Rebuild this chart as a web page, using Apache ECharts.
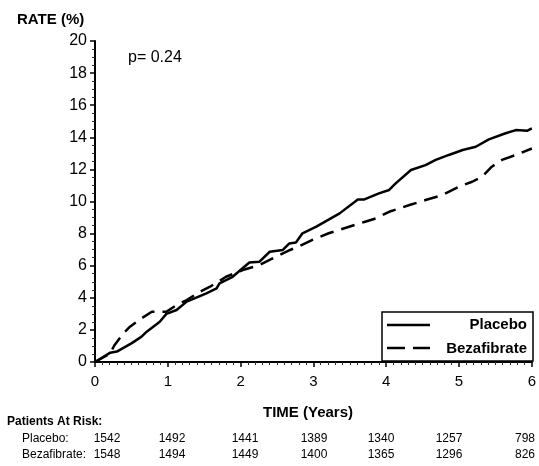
<!DOCTYPE html>
<html>
<head>
<meta charset="utf-8">
<script src="https://cdn.jsdelivr.net/npm/echarts@6/dist/echarts.min.js"></script>
<style>
  html, body { margin: 0; padding: 0; background: #fff; }
  #chart { width: 539px; height: 466px; }
</style>
</head>
<body>
<div id="chart"></div>
<script>
// values (time in years, rate in %)
const placeboTime = [0, 0.21, 0.3, 0.5, 0.64, 0.71, 0.89, 0.98, 1.12, 1.26, 1.53, 1.67, 1.71, 1.89, 2.12, 2.26, 2.4, 2.58, 2.67, 2.76, 2.85, 3.04, 3.36, 3.61, 3.7, 3.9, 4.04, 4.13, 4.34, 4.54, 4.68, 4.86, 5.05, 5.23, 5.41, 5.64, 5.78, 5.94, 6]
const placeboRate = [0, 0.58, 0.65, 1.16, 1.58, 1.89, 2.51, 3.0, 3.24, 3.76, 4.28, 4.59, 4.9, 5.31, 6.2, 6.25, 6.87, 6.98, 7.39, 7.45, 8.02, 8.43, 9.26, 10.13, 10.13, 10.51, 10.72, 11.13, 11.96, 12.27, 12.59, 12.9, 13.21, 13.41, 13.87, 14.25, 14.45, 14.41, 14.55]
const bezaTime = [0, 0.2, 0.27, 0.39, 0.48, 0.64, 0.78, 0.98, 1.12, 1.26, 1.44, 1.58, 1.8, 2.03, 2.26, 2.44, 2.68, 2.79, 2.98, 3.21, 3.49, 3.71, 3.86, 4.04, 4.32, 4.54, 4.77, 5.0, 5.18, 5.32, 5.45, 5.59, 5.78, 6]
const bezaRate = [0, 0.5, 1.06, 1.79, 2.2, 2.72, 3.13, 3.13, 3.55, 3.86, 4.38, 4.69, 5.31, 5.73, 6.04, 6.46, 6.98, 7.18, 7.6, 8.02, 8.43, 8.74, 8.95, 9.36, 9.78, 10.09, 10.4, 10.92, 11.23, 11.55, 12.17, 12.59, 12.9, 13.3]

const seriesNames = ['Placebo', 'Bezafibrate']
const riskPlacebo = ['1542', '1492', '1441', '1389', '1340', '1257', '798']
const riskBeza = ['1548', '1494', '1449', '1400', '1365', '1296', '826']
const riskX = [107, 172, 245, 314, 381, 449, 525]

const FONT = '"Liberation Sans", Arial, sans-serif'

function pairs(xs, ys) {
  return xs.map((x, i) => [x, ys[i]])
}

let myChart = echarts.init(document.getElementById('chart'))

let riskTexts = []
riskPlacebo.forEach((v, i) => {
  riskTexts.push({ type: 'text', x: riskX[i], y: 439, style: { text: v, font: '12px ' + FONT, fill: '#000', align: 'center', verticalAlign: 'middle' } })
  riskTexts.push({ type: 'text', x: riskX[i], y: 455, style: { text: riskBeza[i], font: '12px ' + FONT, fill: '#000', align: 'center', verticalAlign: 'middle' } })
})

let option = {
  backgroundColor: '#fff',
  animation: false,
  grid: {
    left: 95,
    right: 7,
    top: 41,
    bottom: 104,
  },
  xAxis: {
    type: 'value',
    min: 0,
    max: 6,
    interval: 1,
    axisLine: { show: true, onZero: false, lineStyle: { color: '#000', width: 2 } },
    axisTick: { show: true, length: 5, lineStyle: { color: '#000', width: 1.5 } },
    minorTick: { show: true, splitNumber: 10, length: 3, lineStyle: { color: '#333', width: 1 } },
    splitLine: { show: false },
    axisLabel: { color: '#000', fontSize: 15, fontFamily: FONT, margin: 12 },
  },
  yAxis: {
    type: 'value',
    min: 0,
    max: 20,
    interval: 2,
    axisLine: { show: true, onZero: false, lineStyle: { color: '#000', width: 2 } },
    axisTick: { show: true, length: 5, lineStyle: { color: '#000', width: 1.5 } },
    minorTick: { show: true, splitNumber: 4, length: 3, lineStyle: { color: '#333', width: 1 } },
    splitLine: { show: false },
    axisLabel: { color: '#000', fontSize: 16, fontFamily: FONT, margin: 8 },
  },
  series: [
    {
      name: seriesNames[0],
      type: 'line',
      showSymbol: false,
      clip: false,
      lineStyle: { color: '#000', width: 2.5 },
      data: pairs(placeboTime, placeboRate),
    },
    {
      name: seriesNames[1],
      type: 'line',
      showSymbol: false,
      clip: false,
      lineStyle: { color: '#000', width: 2.5, type: [14, 8] },
      data: pairs(bezaTime, bezaRate),
    },
  ],
  graphic: [
    { type: 'text', x: 17, y: 20, style: { text: 'RATE (%)', font: 'bold 15px ' + FONT, fill: '#000', verticalAlign: 'middle' } },
    { type: 'text', x: 128, y: 58, style: { text: 'p= 0.24', font: '16px ' + FONT, fill: '#000', verticalAlign: 'middle' } },
    { type: 'text', x: 308, y: 413, style: { text: 'TIME (Years)', font: 'bold 15px ' + FONT, fill: '#000', align: 'center', verticalAlign: 'middle' } },
    { type: 'text', x: 7, y: 422, style: { text: 'Patients At Risk:', font: 'bold 12px ' + FONT, fill: '#000', verticalAlign: 'middle' } },
    { type: 'text', x: 22, y: 439, style: { text: seriesNames[0] + ':', font: '12px ' + FONT, fill: '#000', verticalAlign: 'middle' } },
    { type: 'text', x: 22, y: 455, style: { text: seriesNames[1] + ':', font: '12px ' + FONT, fill: '#000', verticalAlign: 'middle' } },
    // legend box
    { type: 'rect', shape: { x: 382, y: 312, width: 151, height: 49 }, style: { fill: '#fff', stroke: '#000', lineWidth: 1.5 }, z: 10 },
    { type: 'line', shape: { x1: 387, y1: 325, x2: 430, y2: 325 }, style: { stroke: '#000', lineWidth: 2.5 }, z: 11 },
    { type: 'line', shape: { x1: 387, y1: 348, x2: 430, y2: 348 }, style: { stroke: '#000', lineWidth: 2.5, lineDash: [18, 8] }, z: 11 },
    { type: 'text', x: 527, y: 325, style: { text: seriesNames[0], font: 'bold 15px ' + FONT, fill: '#000', align: 'right', verticalAlign: 'middle' }, z: 11 },
    { type: 'text', x: 527, y: 349, style: { text: seriesNames[1], font: 'bold 15px ' + FONT, fill: '#000', align: 'right', verticalAlign: 'middle' }, z: 11 },
  ].concat(riskTexts),
}
myChart.setOption(option, true)
</script>
</body>
</html>
